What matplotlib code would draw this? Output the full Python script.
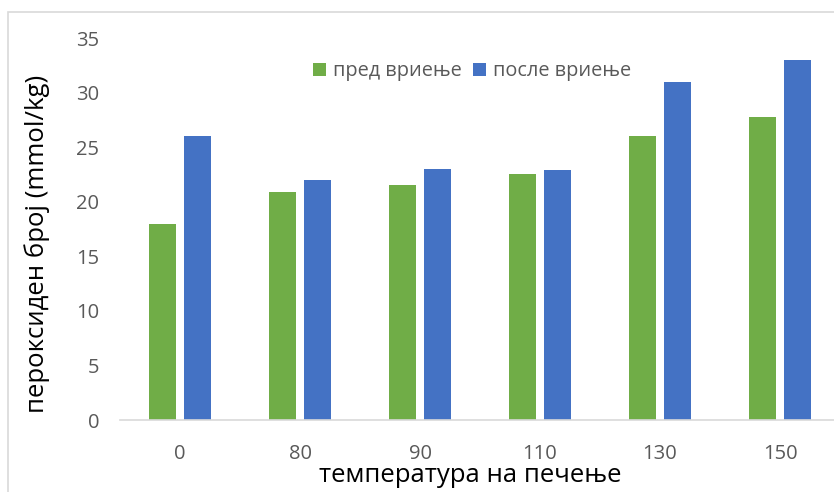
import matplotlib
matplotlib.use("Agg")
import matplotlib.pyplot as plt
from matplotlib.patches import Rectangle
import numpy as np

plt.rcParams['font.family'] = ['Open Sans', 'DejaVu Sans']

categories = ["0", "80", "90", "110", "130", "150"]
before_boiling = [18.0, 20.9, 21.5, 22.5, 26.0, 27.8]
after_boiling = [26.0, 22.0, 23.0, 22.9, 31.0, 33.0]
series_names = ["пред вриење", "после вриење"]
y_ticks = [0, 5, 10, 15, 20, 25, 30, 35]

GREEN = "#70AD47"
BLUE = "#4472C4"
TICK_GRAY = "#595959"

W, H = 834, 492
fig = plt.figure(figsize=(W / 100, H / 100), dpi=100)

# chart frame
fig.patches.append(Rectangle((8 / W, -0.1), 1.2, 1.1 - 12 / H,
                             transform=fig.transFigure, fill=False,
                             edgecolor="#d9d9d9", linewidth=1.2, zorder=0))

ax = fig.add_axes([120 / W, 1 - 420 / H, 720 / W, (420 - 38) / H])
x = np.arange(len(categories))
bw = 0.225
off = 0.1417
ax.bar(x - off, before_boiling, bw, color=GREEN, label=series_names[0], zorder=2)
ax.bar(x + off, after_boiling, bw, color=BLUE, label=series_names[1], zorder=2)

ax.set_xlim(-0.5, len(categories) - 0.5)
ax.set_ylim(0, 35)
ax.set_yticks(y_ticks)
ax.set_xticks(x)
ax.set_xticklabels(categories)
for s in ["top", "right", "left"]:
    ax.spines[s].set_visible(False)
ax.spines["bottom"].set_color("#d9d9d9")
ax.spines["bottom"].set_linewidth(1.2)
ax.tick_params(axis="both", length=0, labelsize=14.5, labelcolor=TICK_GRAY)
ax.tick_params(axis="y", pad=15)
ax.tick_params(axis="x", pad=17)

ax.set_ylabel("пероксиден број (mmol/kg)", fontsize=18.5, color="black")
ax.set_xlabel("температура на печење", fontsize=18.5, color="black")
ax.yaxis.set_label_coords(-0.097, 0.46)
ax.xaxis.set_label_coords(0.487, -0.112)

leg = ax.legend(loc="upper center", bbox_to_anchor=(0.489, 0.975), ncol=2,
                frameon=False, fontsize=14.3, handlelength=0.65, handleheight=0.65,
                handletextpad=0.35, columnspacing=0.55, borderpad=0.2)
for t in leg.get_texts():
    t.set_color(TICK_GRAY)

fig.savefig("out.png", dpi=100)
